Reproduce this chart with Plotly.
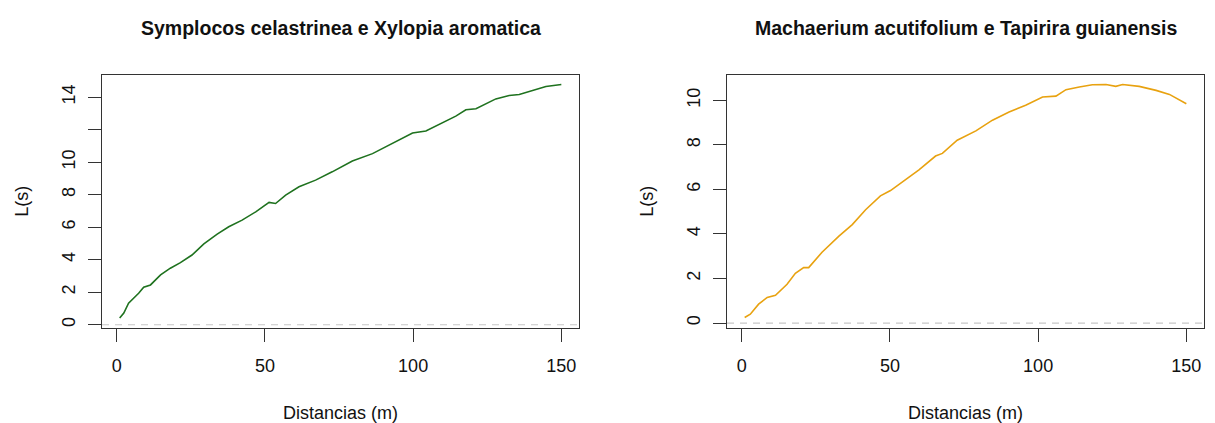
import plotly.graph_objects as go

# ---- data ----
dist_a = [1, 2.4, 4, 7.4, 9.1, 11.4, 14.8, 18.1, 21.5, 25.4, 29.4, 33.9, 37.8, 42.3, 46.9, 51.4,
          53.6, 57, 61.5, 67.1, 72.7, 79.5, 86.3, 89.6, 94.2, 99.8, 104.3, 108.8, 114.4, 117.8,
          121.2, 127.9, 132.4, 135.8, 141.4, 144.8, 150]
L_a = [0.41, 0.72, 1.33, 1.94, 2.31, 2.45, 3.07, 3.48, 3.82, 4.29, 4.97, 5.58, 6.03, 6.44, 6.95,
       7.53, 7.46, 7.98, 8.49, 8.9, 9.41, 10.08, 10.53, 10.84, 11.25, 11.8, 11.92, 12.33, 12.84,
       13.23, 13.29, 13.9, 14.11, 14.17, 14.46, 14.66, 14.79]

dist_b = [1, 2.9, 5.7, 8.6, 11.4, 15.3, 18.1, 20.9, 22.6, 27.1, 32.8, 37.3, 41.8, 46.8, 50.2,
          55.3, 59.8, 65.4, 67.7, 72.7, 79, 84.6, 90.2, 95.8, 101.5, 106, 109.4, 113.9, 118.3,
          122.9, 126.2, 128.5, 130.7, 134.1, 139.8, 144.3, 150]
L_b = [0.25, 0.40, 0.85, 1.15, 1.25, 1.74, 2.23, 2.49, 2.49, 3.18, 3.90, 4.42, 5.09, 5.71, 5.95,
       6.43, 6.88, 7.5, 7.62, 8.21, 8.63, 9.11, 9.48, 9.78, 10.15, 10.19, 10.48, 10.6, 10.7,
       10.71, 10.63, 10.71, 10.67, 10.63, 10.45, 10.27, 9.85]

title_a = "Symplocos celastrinea e Xylopia aromatica"
title_b = "Machaerium acutifolium e Tapirira guianensis"
x_label = "Distancias (m)"
y_label = "L(s)"

x_ticks = [0, 50, 100, 150]
y_ticks_a = [0, 2, 4, 6, 8, 10, 12, 14]
y_text_a = ["0", "2", "4", "6", "8", "10", "", "14"]
y_ticks_b = [0, 2, 4, 6, 8, 10]

# ---- styling ----
FONT = "Liberation Sans, Arial, Helvetica, sans-serif"
AX = "#333333"
W, H = 1215, 423

fig = go.Figure()
fig.add_trace(go.Scatter(x=dist_a, y=L_a, mode="lines", line=dict(color="#1f721f", width=1.6),
                         xaxis="x", yaxis="y", showlegend=False))
fig.add_trace(go.Scatter(x=dist_b, y=L_b, mode="lines", line=dict(color="#E8A210", width=1.6),
                         xaxis="x2", yaxis="y2", showlegend=False))

for xr, yr in (("x", "y"), ("x2", "y2")):
    fig.add_shape(type="line", xref=f"{xr} domain", yref=yr, x0=0, x1=1, y0=0, y1=0,
                  line=dict(color="#c8c8c8", width=1.2, dash="7px,6px"), layer="below")

dom_y = [(H - 327.5) / H, (H - 75) / H]
dom_a = [102 / W, 579 / W]
dom_b = [727 / W, 1204 / W]

xcommon = dict(showgrid=False, zeroline=False, showline=True, mirror=True, linecolor=AX,
               linewidth=1.2, ticks="outside", ticklen=13, tickwidth=1.2, tickcolor=AX,
               tickvals=x_ticks, range=[-4.96, 155.96], tickfont=dict(size=18, color="#111"),
               ticklabelstandoff=9,
               title=dict(text=x_label, font=dict(size=18, color="#111"), standoff=31))
ycommon = dict(showgrid=False, zeroline=False, showline=True, mirror=True, linecolor=AX,
               linewidth=1.2, ticks="outside", ticklen=13, tickwidth=1.2, tickcolor=AX,
               tickangle=-90, tickfont=dict(size=18, color="#111"), ticklabelstandoff=6,
               title=dict(text=y_label, font=dict(size=18, color="#111"), standoff=25))

fig.update_layout(
    width=W, height=H, margin=dict(l=0, r=0, t=0, b=0),
    paper_bgcolor="white", plot_bgcolor="white",
    font=dict(family=FONT, color="#111"),
    xaxis=dict(domain=dom_a, anchor="y", **xcommon),
    yaxis=dict(domain=dom_y, anchor="x", range=[-0.17, 15.37], tickvals=y_ticks_a,
               ticktext=y_text_a, **ycommon),
    xaxis2=dict(domain=dom_b, anchor="y2", **xcommon),
    yaxis2=dict(domain=dom_y, anchor="x2", range=[-0.2, 11.14], tickvals=y_ticks_b, **ycommon),
    annotations=[
        dict(text=f"<b>{title_a}</b>", x=sum(dom_a) / 2, y=(H - 28) / H, xref="paper",
             yref="paper", xanchor="center", yanchor="middle", showarrow=False,
             font=dict(size=19.5, color="#111")),
        dict(text=f"<b>{title_b}</b>", x=sum(dom_b) / 2, y=(H - 28) / H, xref="paper",
             yref="paper", xanchor="center", yanchor="middle", showarrow=False,
             font=dict(size=19.5, color="#111")),
    ],
)

fig.write_html("out.html", config={"displayModeBar": False},
               post_script="document.body.style.margin='0';")
